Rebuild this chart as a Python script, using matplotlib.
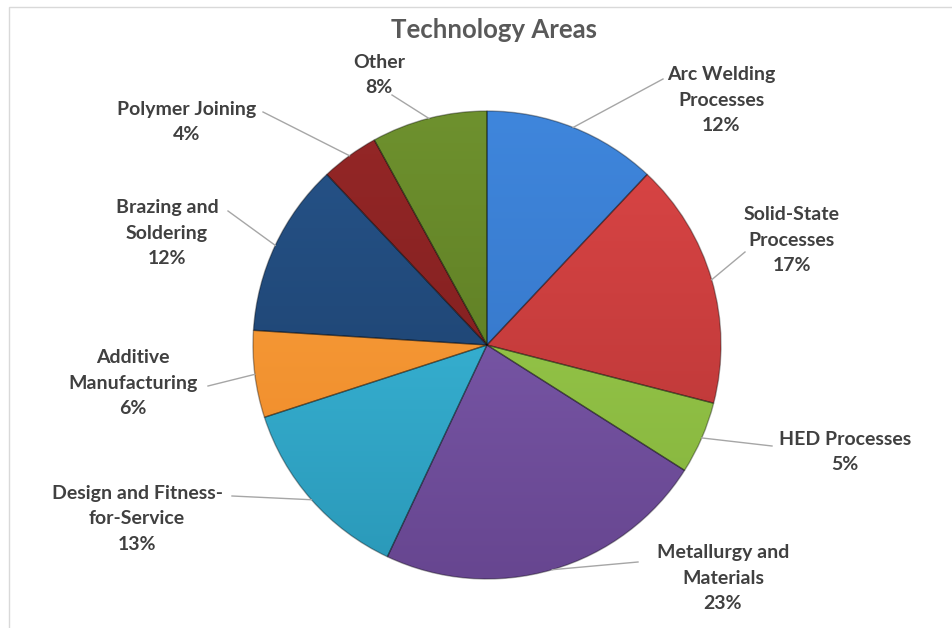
import numpy as np
import matplotlib
matplotlib.use("Agg")
import matplotlib.pyplot as plt
from matplotlib.colors import LinearSegmentedColormap
from matplotlib.patches import Rectangle

# Data
names = ["Arc Welding\nProcesses", "Solid-State\nProcesses", "HED Processes",
         "Metallurgy and\nMaterials", "Design and Fitness-\nfor-Service",
         "Additive\nManufacturing", "Brazing and\nSoldering", "Polymer Joining", "Other"]
values = [12, 17, 5, 23, 13, 6, 12, 4, 8]

# Slice colours (top, bottom) for a soft vertical gradient
colors_top = ["#3f86dc", "#dc4646", "#9fd150", "#8462b6", "#40c2e4",
              "#f9a540", "#26548a", "#952727", "#6e912e"]
colors_bot = ["#3270c0", "#b33434", "#84b23c", "#674690", "#2a98b8",
              "#ee8626", "#1b3c66", "#771c1c", "#56731f"]

# Layout in pixel coordinates (x from left, y from top)
W, H = 952, 628
cx, cy, r = 487, 345, 234
label_pos = [(721, 100), (792, 240), (845, 452), (723, 578), (137, 519),
             (133, 383), (167, 233), (187, 122), (379, 75)]
leader_end = [(663, 79), (745, 252), (772, 446), (638, 562), (232, 496),
              (208, 386), (228, 211), (263, 112), (392, 95)]

plt.rcParams["font.family"] = ["Lato", "DejaVu Sans"]

fig = plt.figure(figsize=(W / 100, H / 100), dpi=100)
ax = fig.add_axes([0, 0, 1, 1])

center = (cx, H - cy)
wedges, _ = ax.pie(values, colors=colors_top, startangle=90, counterclock=False,
                   radius=r, center=center, frame=True,
                   wedgeprops=dict(linewidth=0, zorder=1))

# Gradient fill clipped to each wedge, then outline on top
grad = np.linspace(0, 1, 256).reshape(-1, 1)
for w, ct, cb in zip(wedges, colors_top, colors_bot):
    cmap = LinearSegmentedColormap.from_list("g", [cb, ct])
    im = ax.imshow(grad, extent=[cx - r, cx + r, H - cy - r, H - cy + r],
                   origin="lower", cmap=cmap, aspect="auto", zorder=2)
    im.set_clip_path(w)
    w.set_facecolor("none")
    w.set_edgecolor((0, 0, 0, 0.35))
    w.set_linewidth(1.0)
    w.set_zorder(3)

# Labels and leader lines
for w, name, v, (lx, ly), (ex, ey) in zip(wedges, names, values, label_pos, leader_end):
    ang = np.deg2rad((w.theta1 + w.theta2) / 2)
    px = cx + r * np.cos(ang)
    py = (H - cy) + r * np.sin(ang)
    ax.plot([px, ex], [py, H - ey], color="#a6a6a6", lw=1, zorder=4)
    ax.text(lx, H - ly, f"{name}\n{v}%", ha="center", va="center",
            fontsize=14, fontweight="bold", color="#404040", linespacing=1.6, zorder=5)

ax.text(494, H - 30, "Technology Areas", ha="center", va="center",
        fontsize=18.5, fontweight="bold", color="#595959")

# Chart area frame
ax.add_patch(Rectangle((9, -20), W + 20, H - 7 + 20, fill=False,
                       edgecolor="#d9d9d9", lw=1, zorder=0))

ax.set_xlim(0, W)
ax.set_ylim(0, H)
ax.set_aspect("auto")
ax.axis("off")

plt.savefig("out.png", dpi=100)
plt.close()
